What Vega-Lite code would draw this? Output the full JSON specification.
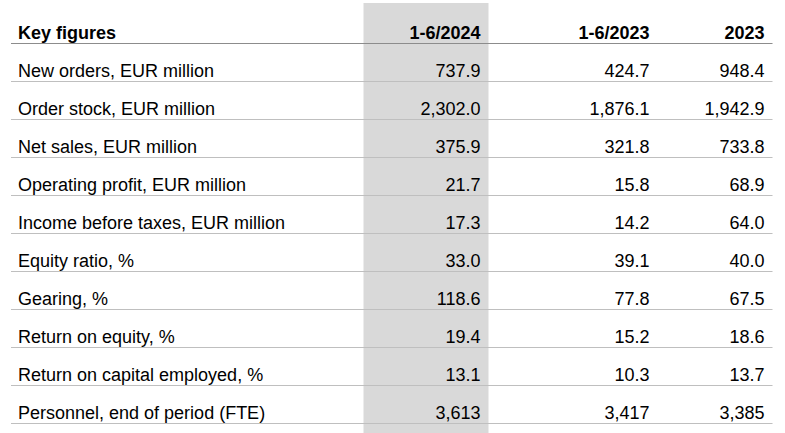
{
  "$schema": "https://vega.github.io/schema/vega-lite/v6.json",
  "width": 785,
  "height": 433,
  "padding": 0,
  "autosize": {"type": "fit", "contains": "padding"},
  "background": "#ffffff",
  "config": {"view": {"stroke": null}, "text": {"font": "Liberation Sans", "fontSize": 18, "color": "#000000"}},
  "datasets": {
    "columns": [
      {"row": 0, "col": 0, "text": "Key figures"},
      {"row": 0, "col": 1, "text": "1-6/2024"},
      {"row": 0, "col": 2, "text": "1-6/2023"},
      {"row": 0, "col": 3, "text": "2023"}
    ],
    "metrics": [
      {"row": 1, "metric": "New orders, EUR million"},
      {"row": 2, "metric": "Order stock, EUR million"},
      {"row": 3, "metric": "Net sales, EUR million"},
      {"row": 4, "metric": "Operating profit, EUR million"},
      {"row": 5, "metric": "Income before taxes, EUR million"},
      {"row": 6, "metric": "Equity ratio, %"},
      {"row": 7, "metric": "Gearing, %"},
      {"row": 8, "metric": "Return on equity, %"},
      {"row": 9, "metric": "Return on capital employed, %"},
      {"row": 10, "metric": "Personnel, end of period (FTE)"}
    ],
    "lines": [
      {"row": 0, "kind": "header"},
      {"row": 1, "kind": "body"},
      {"row": 2, "kind": "body"},
      {"row": 3, "kind": "body"},
      {"row": 4, "kind": "body"},
      {"row": 5, "kind": "body"},
      {"row": 6, "kind": "body"},
      {"row": 7, "kind": "body"},
      {"row": 8, "kind": "body"},
      {"row": 9, "kind": "body"},
      {"row": 10, "kind": "body"}
    ],
    "highlight": [
      {"period": "1-6/2024", "col": 1, "first": 0, "last": 10}
    ],
    "cells": [
      {"row": 1, "col": 1, "value": "737.9"},
      {"row": 1, "col": 2, "value": "424.7"},
      {"row": 1, "col": 3, "value": "948.4"},
      {"row": 2, "col": 1, "value": "2,302.0"},
      {"row": 2, "col": 2, "value": "1,876.1"},
      {"row": 2, "col": 3, "value": "1,942.9"},
      {"row": 3, "col": 1, "value": "375.9"},
      {"row": 3, "col": 2, "value": "321.8"},
      {"row": 3, "col": 3, "value": "733.8"},
      {"row": 4, "col": 1, "value": "21.7"},
      {"row": 4, "col": 2, "value": "15.8"},
      {"row": 4, "col": 3, "value": "68.9"},
      {"row": 5, "col": 1, "value": "17.3"},
      {"row": 5, "col": 2, "value": "14.2"},
      {"row": 5, "col": 3, "value": "64.0"},
      {"row": 6, "col": 1, "value": "33.0"},
      {"row": 6, "col": 2, "value": "39.1"},
      {"row": 6, "col": 3, "value": "40.0"},
      {"row": 7, "col": 1, "value": "118.6"},
      {"row": 7, "col": 2, "value": "77.8"},
      {"row": 7, "col": 3, "value": "67.5"},
      {"row": 8, "col": 1, "value": "19.4"},
      {"row": 8, "col": 2, "value": "15.2"},
      {"row": 8, "col": 3, "value": "18.6"},
      {"row": 9, "col": 1, "value": "13.1"},
      {"row": 9, "col": 2, "value": "10.3"},
      {"row": 9, "col": 3, "value": "13.7"},
      {"row": 10, "col": 1, "value": "3,613"},
      {"row": 10, "col": 2, "value": "3,417"},
      {"row": 10, "col": 3, "value": "3,385"}
    ]
  },
  "resolve": {"scale": {"x": "shared", "y": "shared"}},
  "layer": [
    {
      "data": {"name": "highlight"},
      "mark": {"type": "rect", "color": "#d9d9d9", "xOffset": -117, "x2Offset": 8, "yOffset": -35.5, "y2Offset": 14.5},
      "encoding": {
        "x": {"field": "col", "type": "quantitative", "scale": {"domain": [0, 1, 2, 3], "range": [18, 480.5, 649.5, 764.5], "nice": false, "zero": false}, "axis": null},
        "x2": {"field": "col"},
        "y": {"field": "first", "type": "quantitative", "scale": {"domain": [0, 10], "range": [38.5, 418.5], "nice": false, "zero": false}, "axis": null},
        "y2": {"field": "last"}
      }
    },
    {
      "data": {"name": "lines"},
      "transform": [{"calculate": "0", "as": "c0"}, {"calculate": "3", "as": "c3"}],
      "mark": {"type": "rule", "strokeWidth": 1.2, "xOffset": -7, "x2Offset": 8, "yOffset": 5},
      "encoding": {
        "x": {"field": "c0", "type": "quantitative", "axis": null},
        "x2": {"field": "c3"},
        "y": {"field": "row", "type": "quantitative", "axis": null},
        "color": {"field": "kind", "type": "nominal", "scale": {"domain": ["header", "body"], "range": ["#8c8c8c", "#bfbfbf"]}, "legend": null}
      }
    },
    {
      "data": {"name": "columns"},
      "transform": [{"filter": "datum.col == 0"}],
      "mark": {"type": "text", "align": "left", "baseline": "alphabetic", "fontWeight": "bold"},
      "encoding": {
        "x": {"field": "col", "type": "quantitative", "axis": null},
        "y": {"field": "row", "type": "quantitative", "axis": null},
        "text": {"field": "text"}
      }
    },
    {
      "data": {"name": "columns"},
      "transform": [{"filter": "datum.col > 0"}],
      "mark": {"type": "text", "align": "right", "baseline": "alphabetic", "fontWeight": "bold"},
      "encoding": {
        "x": {"field": "col", "type": "quantitative", "axis": null},
        "y": {"field": "row", "type": "quantitative", "axis": null},
        "text": {"field": "text"}
      }
    },
    {
      "data": {"name": "metrics"},
      "transform": [{"calculate": "0", "as": "col"}],
      "mark": {"type": "text", "align": "left", "baseline": "alphabetic"},
      "encoding": {
        "x": {"field": "col", "type": "quantitative", "axis": null},
        "y": {"field": "row", "type": "quantitative", "axis": null},
        "text": {"field": "metric"}
      }
    },
    {
      "data": {"name": "cells"},
      "mark": {"type": "text", "align": "right", "baseline": "alphabetic"},
      "encoding": {
        "x": {"field": "col", "type": "quantitative", "axis": null},
        "y": {"field": "row", "type": "quantitative", "axis": null},
        "text": {"field": "value"}
      }
    }
  ]
}
